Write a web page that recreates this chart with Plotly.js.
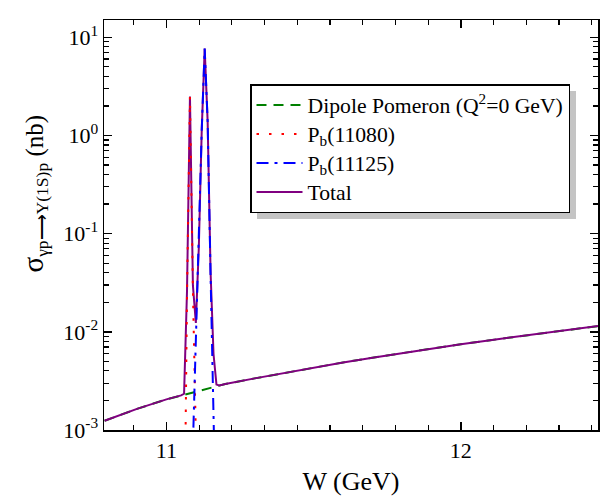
<!DOCTYPE html>
<html><head><meta charset="utf-8">
<script src="https://cdn.plot.ly/plotly-3.0.1.min.js"></script>
<style>html,body{margin:0;padding:0;background:#fff}#chart{width:600px;height:496px}</style>
</head><body><div id="chart"></div>
<script>
// ---- data ----
const seriesNames = ['Dipole Pomeron (Q<sup>2</sup>=0 GeV)', 'P<sub>b</sub>(11080)', 'P<sub>b</sub>(11125)', 'Total'];

const wDipole = [10.79, 10.9, 11.0, 11.1, 11.2, 11.3, 11.4, 11.5, 11.6, 11.7, 11.8, 11.9, 12.0, 12.1, 12.2, 12.3, 12.4, 12.47];
const sigmaDipole = [1.242e-3, 1.641e-3, 2.051e-3, 2.472e-3, 2.938e-3, 3.357e-3, 3.819e-3, 4.325e-3, 4.875e-3, 5.458e-3, 6.081e-3, 6.745e-3, 7.464e-3, 8.222e-3, 9.036e-3, 9.908e-3, 1.081e-2, 1.148e-2];

const wPb11080 = [11.05, 11.06, 11.07, 11.08, 11.09, 11.10, 11.11, 11.12];
const sigmaPb11080 = [1e-6, 3.5e-5, 0.024, 2.5, 0.0266, 9e-4, 1e-5, 1e-6];

const wPb11125 = [11.07, 11.08, 11.09, 11.10, 11.11, 11.12, 11.13, 11.14, 11.15, 11.16, 11.17, 11.18];
const sigmaPb11125 = [1e-6, 1e-5, 7e-4, 9e-3, 0.069, 1.13, 7.7, 1.4, 0.038, 3.2e-3, 1e-4, 2e-6];

const wTotal = [10.79, 10.9, 11.0, 11.05, 11.06, 11.07, 11.08, 11.09, 11.10, 11.11, 11.12, 11.13, 11.14, 11.15, 11.16, 11.17, 11.18, 11.2, 11.3, 11.4, 11.5, 11.6, 11.7, 11.8, 11.9, 12.0, 12.1, 12.2, 12.3, 12.4, 12.47];
const sigmaTotal = [1.242e-3, 1.641e-3, 2.051e-3, 2.25e-3, 2.34e-3, 0.0264, 2.50, 0.0297, 0.0123, 0.0715, 1.133, 7.7, 1.40, 0.0407, 5.94e-3, 2.9e-3, 2.84e-3, 2.938e-3, 3.357e-3, 3.819e-3, 4.325e-3, 4.875e-3, 5.458e-3, 6.081e-3, 6.745e-3, 7.464e-3, 8.222e-3, 9.036e-3, 9.908e-3, 1.081e-2, 1.148e-2];

const xTickVals = [11, 12];
const xTickText = ['11', '12'];
const yTickVals = [1e-3, 1e-2, 1e-1, 1, 10];
const yTickText = ['10<sup>-3</sup>', '10<sup>-2</sup>', '10<sup>-1</sup>', '10<sup>0</sup>', '10<sup>1</sup>'];

const xTitle = 'W (GeV)';
const yTitleMain = 'σ';
const yTitleSub = 'γp⟶Υ(1S)p';
const yTitleUnit = '(nb)';

// minor tick positions on the log axis (2..9 in every decade)
const yMinor = [];
for (let e = -3; e <= 1; e++) for (let m = 2; m <= 9; m++) yMinor.push(m * Math.pow(10, e));

const FONT = '"Liberation Serif", serif';
const legendLabel = s => '<span style="font-size:21.7px">' + s + '</span>';

const traces = [
  {x: wDipole, y: sigmaDipole, name: legendLabel(seriesNames[0]), mode: 'lines', legendrank: 1,
   line: {color: '#008000', width: 2, dash: '10px,7px'}},
  {x: wTotal, y: sigmaTotal, name: legendLabel(seriesNames[3]), mode: 'lines', legendrank: 4,
   line: {color: '#800080', width: 2}},
  {x: wPb11080, y: sigmaPb11080, name: legendLabel(seriesNames[1]), mode: 'lines', legendrank: 2,
   line: {color: '#ff0000', width: 2, dash: '2.5px,10px'}},
  {x: wPb11125, y: sigmaPb11125, name: legendLabel(seriesNames[2]), mode: 'lines', legendrank: 3,
   line: {color: '#0000ff', width: 2, dash: '12px,6px,3px,6px'}}
];

function axisBase() {
  return {
    showline: true, linecolor: 'black', linewidth: 1.5, mirror: 'allticks',
    ticks: 'inside', ticklen: 8, tickwidth: 1.5, tickcolor: 'black',
    showgrid: false, zeroline: false,
    tickfont: {family: FONT, size: 22, color: 'black'}
  };
}

const layout = {
  width: 600, height: 496,
  margin: {l: 104, r: 2, t: 20, b: 66},
  paper_bgcolor: 'white', plot_bgcolor: 'white',
  font: {family: FONT, size: 22, color: 'black'},
  showlegend: true,
  xaxis: Object.assign(axisBase(), {
    range: [10.788, 12.466], tickmode: 'array', tickvals: xTickVals, ticktext: xTickText,
    minor: {tickmode: 'linear', tick0: 11, dtick: 1 / 9, ticks: 'inside', ticklen: 5, tickwidth: 1.2, tickcolor: 'black'},
    title: {text: xTitle, font: {family: FONT, size: 26, color: 'black'}, standoff: 13}
  }),
  yaxis: Object.assign(axisBase(), {
    type: 'log', range: [-3, Math.log10(15)], tickmode: 'array', tickvals: yTickVals, ticktext: yTickText,
    minor: {tickmode: 'array', tickvals: yMinor, ticks: 'inside', ticklen: 5, tickwidth: 1.2, tickcolor: 'black'}
  }),
  annotations: [{
    xref: 'paper', yref: 'paper', x: (34 - 104) / 494, y: (430 - 193.5) / 410,
    xanchor: 'center', yanchor: 'middle', showarrow: false, textangle: -90,
    text: '<span style="font-size:29px">' + yTitleMain + '</span><sub><span style="font-size:17.5px">' + yTitleSub + '</span></sub> ' + yTitleUnit,
    font: {family: FONT, size: 25, color: 'black'}
  }],
  legend: {
    x: (250 - 104) / 494, y: (430 - 84) / 410, xanchor: 'left', yanchor: 'top',
    bgcolor: 'white', bordercolor: 'black', borderwidth: 1.5,
    font: {family: FONT, size: 20, color: 'black'},
    itemwidth: 46, tracegroupgap: 0
  },
  shapes: [{
    type: 'rect', xref: 'paper', yref: 'paper', layer: 'below',
    x0: (257 - 104) / 494, x1: (576 - 104) / 494, y0: (430 - 219) / 410, y1: (430 - 91) / 410,
    fillcolor: '#c4c4c4', line: {width: 0}
  }]
};

Plotly.newPlot('chart', traces, layout, {displayModeBar: false, staticPlot: true});
</script>
</body></html>
